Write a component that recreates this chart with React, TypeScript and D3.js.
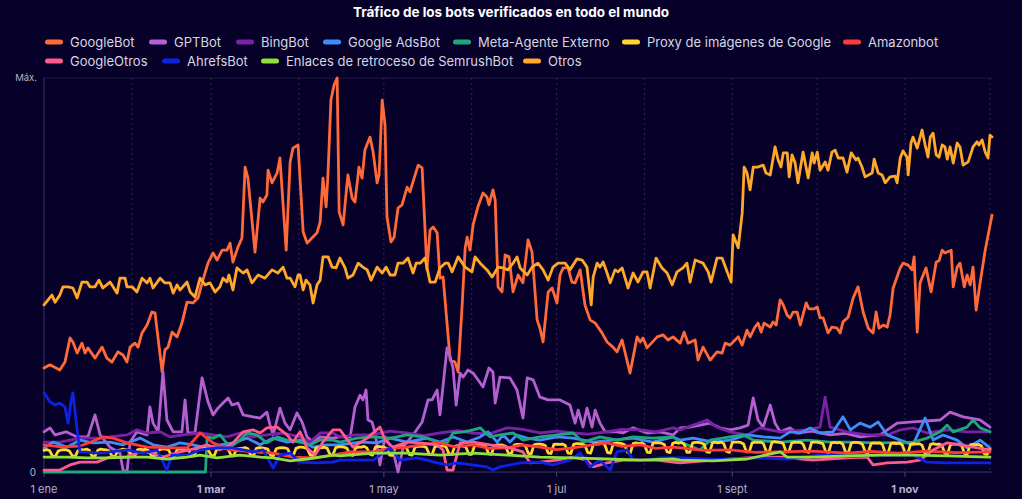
import React from "react";
import * as d3 from "d3";

// ---------- data (day offset from 1 Jan 2025, share of maximum in %) ----------
const chartTitle = "Tráfico de los bots verificados en todo el mundo";

const seriesNames = [
  "GoogleBot", "GPTBot", "BingBot", "Google AdsBot", "Meta-Agente Externo",
  "Proxy de imágenes de Google", "Amazonbot", "GoogleOtros", "AhrefsBot",
  "Enlaces de retroceso de SemrushBot", "Otros",
];

const googleBot: [number, number][] = [
  [0,26.4],[2.1,27.2],[5.6,25.9],[7.4,27.9],[9.2,34],[10.2,33],[11.7,30.2],[13.4,32.7],[14.5,30.2],[15.5,31.5],
  [18,28.9],[20.5,31.7],[22.2,28.9],[24,27.9],[26.1,30.5],[27.9,29.7],[29.3,27.9],[30.4,31.7],[32.1,32.7],[33.2,31.7],
  [34.6,35.3],[36.4,37.3],[38.1,40.6],[39.2,40.4],[41.7,25.4],[42.7,31],[43.8,31.7],[45.2,35.5],[47,34.3],[48.7,37.8],
  [50.5,43.1],[52.6,42.9],[54.4,44.2],[56.1,48.7],[57.9,53],[59.7,55.6],[61.1,53.8],[62.9,56.3],[64.6,56.3],[65.7,58.1],
  [66.7,53.3],[68.5,57.1],[69.9,59.4],[71,77.4],[72,74.6],[74.5,55.8],[76.3,69.5],[77.3,68.5],[78.7,70.3],[79.1,76.6],
  [80.5,73.4],[82.3,75.9],[83.3,79.7],[85.5,56.3],[86.9,78.7],[87.9,82.2],[89.7,83],[91.5,60.9],[92.9,58.1],[94.6,59.4],
  [96.4,60.7],[97.5,63.5],[98.5,74.6],[99.6,67.3],[100.3,76.1],[101.3,94.4],[102.4,98.2],[103.5,100],[104.2,66],[105.6,62.7],
  [107.3,75.4],[108.8,69.5],[109.8,68.5],[111.2,77.4],[112.3,74.6],[113.3,81.7],[115.1,85],[116.2,81.2],[117.6,73.4],[118.3,75.4],
  [119.4,94.4],[120.4,88.1],[121.1,64.7],[122.5,58.4],[123.6,59.6],[125,67],[126.4,67.8],[128.2,72.3],[129.2,71.1],[132.1,77.9],
  [133.5,77.2],[135.2,51.3],[136.3,61.4],[137.4,62.2],[138.8,60.7],[139.8,49.2],[140.9,49.5],[143.4,28.4],[145.1,27.9],[146.2,25.4],
  [147.6,41.9],[148.7,56.9],[149.4,59.6],[150.4,56.3],[151.5,62.7],[153.2,67.3],[155,70.8],[156.4,69.8],[157.1,67.8],[158.5,71.6],
  [159.3,69],[160.3,47],[161.7,45.7],[162.8,55.1],[164.2,54.6],[165.6,45.7],[167.4,50],[169.1,48],[170.9,58.9],[172.3,55.8],
  [174.1,38.6],[175.1,36.5],[176.2,33],[178,45.7],[179.4,46.7],[181.1,42.9],[182.2,50],[183.3,51.8],[185,51.8],[186.4,48.2],
  [187.5,48],[189.3,51.3],[191,42.4],[192.8,38.6],[194.6,37.8],[197,35.3],[198.8,33],[200.9,31.7],[202.3,30.5],[204.1,33.5],
  [205.2,30.2],[206.9,25.1],[209.4,34.3],[210.5,33],[211.5,34],[212.9,31.5],[216.5,34.3],[218.6,34.8],[220.3,33.5],[222.1,34.3],
  [224.6,32.7],[226,35.5],[227.4,32.7],[229.9,33.5],[230.9,28.4],[232.7,31.7],[235.2,28.4],[237.6,30.5],[239.4,30.2],[240.5,32.7],
  [242.2,32.2],[245.1,34.3],[246.5,32.2],[248.2,36],[249.3,34.3],[251,36.8],[252.1,37.8],[253.2,35.5],[254.2,37.8],[256.4,36.8],
  [257.4,38.1],[258.5,37.3],[259.9,43.7],[261,42.4],[262.4,39.8],[263.4,39.1],[264.5,40.6],[265.9,40.6],[267,37.3],[269.1,42.9],
  [270.1,41.4],[271.9,41.4],[273,41.9],[274,39.1],[275.1,39.1],[276.8,35.3],[278.2,36.8],[280,36.5],[281.1,35.3],[282.1,38.1],
  [283.9,39.3],[285.7,44.2],[287.4,47],[289.2,40.6],[291,36.5],[292.7,35.3],[293.8,40.6],[294.8,36.5],[296.3,37.3],[297.7,36.8],
  [298.7,39.8],[299.8,46.7],[302.3,51.8],[303.3,53],[305.1,52.5],[306.5,51.3],[307.2,54.6],[308.3,35.5],[309.3,48],[311.4,51.8],
  [313.2,45.7],[315,53.3],[316,53.6],[317.1,56.3],[318.1,55.6],[320.3,56.3],[321,47],[322.4,52],[323.4,53],[324.9,47],
  [325.9,50],[327,47.5],[328,52],[329.1,41.1],[330.5,48],[332.3,56.3],[334.7,65.2],
];

const otros: [number, number][] = [
  [0,42.4],[2.8,44.9],[3.9,43.1],[5.6,44.9],[6.7,47],[8.5,47],[10.2,46.7],[11.7,44.2],[13.4,48.2],[15.2,48.2],
  [16.2,47],[18,47],[19.4,48.7],[20.8,46.7],[23.3,48.2],[25.8,45.4],[26.8,49.2],[28.6,49.2],[29.3,47],[31.1,47],
  [32.8,45.7],[34.6,49.2],[36.4,48],[37.4,49.2],[38.5,46.7],[41,49.2],[42.7,48],[44.5,48],[45.6,45.4],[47,47.5],
  [48,46.2],[50.5,48.2],[51.6,45.7],[53.3,44.4],[55.1,49.2],[56.9,47.5],[58.6,48],[60.4,45.7],[62.1,47],[63.2,49.2],
  [64.6,48.2],[65.3,50],[66.7,46.2],[68.1,51.8],[70.3,50.5],[71.7,51.3],[73.4,48],[75.6,50],[78,49.2],[80.5,51.3],
  [82.6,50.5],[84.4,52],[85.8,49.2],[86.9,49.2],[88.6,47],[89.7,50],[90.4,50],[91.5,46.2],[92.5,48.7],[93.9,47.5],
  [95,42.9],[96.4,47.5],[97.5,48.7],[98.5,54.6],[100.3,54.6],[101.7,52],[103.1,51.8],[104.5,54.3],[106.3,51.8],[107.3,49.2],
  [109.1,50],[110.9,53],[112.6,52],[114.1,51.3],[115.5,48.7],[117.6,52],[119.4,50.5],[120.8,52],[122.2,50],[123.9,50],
  [125,53],[126.8,53],[128.5,54.3],[130.3,50.5],[131.4,53],[132.8,53],[134.5,54.3],[136.3,48.2],[138.1,48.2],[139.8,51.8],
  [141.6,53],[142.7,53],[144.1,50.8],[146.2,54.6],[148.7,52],[151.1,50.8],[152.2,54.6],[154,53],[156.4,51.3],[158.2,49.5],
  [160.3,52],[162.1,51.8],[163.8,51.3],[165.6,53],[167,54.6],[168.1,51.8],[170.6,50],[172.3,52],[174.4,53],[176.2,51.3],
  [178,48.7],[179.7,52],[181.5,53],[184,53],[185.7,51.3],[188.2,54.1],[190,53.8],[191.7,52],[193.2,42.4],[193.9,49.5],
  [195.3,53],[196.3,52],[197.4,53.3],[198.8,50.5],[199.9,48],[201.6,51.3],[202.7,50.8],[204.1,51.8],[206.2,46.7],[208,50.5],
  [209.7,48.2],[211.5,50.8],[212.9,50.8],[214,46.7],[216.1,54.3],[218.2,51.8],[220,50.5],[221.8,47.5],[223.5,50.8],[225.6,51.8],
  [227,53],[228.1,48.2],[229.9,53.8],[231.6,53.3],[232.7,53],[234.5,50.8],[235.5,48.2],[237.6,54.3],[239.4,54.3],[241.2,50.8],
  [242.6,48.2],[243.3,60.2],[245.1,56.9],[246.5,65.7],[247.2,77.4],[248.2,75.9],[249.3,71.6],[250.4,77.4],[252.1,77.4],[253.9,77.9],
  [254.9,75.9],[256.4,75.4],[258.1,82.5],[259.2,79.2],[260.2,77.4],[261,81],[262.4,81],[263.1,74.9],[264.1,80.5],[265.2,78.4],
  [266.2,73.4],[268,81.2],[269.8,74.6],[271.2,81],[271.9,78.4],[273,81.2],[274,76.6],[275.8,78.7],[276.8,76.6],[278.2,81.2],
  [279.3,81.7],[280.4,79.7],[282.1,79.7],[283.5,76.1],[285,81],[286.7,79.2],[287.4,79.7],[288.8,77.4],[289.9,74.9],[292.4,75.9],
  [293.1,79.4],[294.5,75.9],[295.9,75.4],[297,73.4],[298.7,74.9],[300.5,75.1],[301.2,73.4],[302.3,79.7],[303.3,81.5],[304.7,79.9],
  [305.1,75.4],[306.1,83.5],[306.8,85],[308.3,82.2],[310,86.8],[311.1,83],[312.1,79.9],[312.9,85],[313.9,86],[315,80.5],
  [316,79.9],[317.1,83],[318.1,82.5],[318.9,79.4],[319.9,82.5],[321,78.4],[322.4,83.5],[323.4,82.5],[324.5,77.9],[326.3,78.7],
  [328,82.5],[329.4,83.8],[330.1,83],[331.2,84.3],[332.3,81.2],[333.3,79.7],[334,85.5],[334.7,85],
];

const gptBot: [number, number][] = [
  [0,10.2],[2.1,11.2],[3.9,9.4],[7.8,10.2],[11.7,8.9],[15.5,8.9],[18,14.5],[19.8,9.4],[23.3,6.3],[26.8,4.8],
  [27.9,0.5],[29.3,0],[30.4,7.6],[32.8,10.2],[36.4,9.4],[37.4,16.5],[38.5,12.4],[40.3,10.2],[42,25.4],[43.4,13.2],
  [45.6,10.2],[48.7,10.2],[49.8,18.3],[50.8,9.9],[53.3,9.9],[55.8,23.9],[57.9,17.8],[59.7,14.5],[61.4,16.2],[63.2,17.5],
  [65,18.8],[66.4,17],[68.5,17.5],[70.3,14.5],[73.8,14],[76.3,13.7],[78.7,15.2],[79.8,11.9],[80.9,9.4],[83.3,16.2],
  [85.1,12.4],[86.9,10.7],[89.3,15],[91.1,12.7],[92.9,8.9],[95,7.6],[97.5,8.9],[102,8.6],[104.5,8.9],[108.1,8.9],
  [109.8,16.5],[111.6,19.5],[112.6,18.3],[113.7,20.8],[114.4,13.2],[115.8,12.7],[116.9,9.9],[118.6,1.8],[120.4,8.9],[123.2,5.6],
  [125,0],[126.8,6.3],[130.3,9.4],[133.5,12.7],[135.6,18.3],[137,18.3],[138.8,20.8],[139.8,14.5],[142.3,31.5],[143.4,29.2],
  [144.4,26.4],[145.5,17],[146.9,25.1],[148,24.1],[149.7,25.9],[151.5,25.1],[153.2,23.4],[155,21.6],[157.1,26.4],[158.5,25.4],
  [159.3,17.5],[161,24.1],[164.5,23.9],[167,20.8],[169.1,13.7],[170.6,23.9],[172.7,23.4],[175.1,19],[178,18.3],[182.2,18.3],
  [185.7,17],[187.5,12.4],[188.6,15.7],[190.3,11.4],[191.7,16.2],[193.5,11.4],[194.6,15.7],[196.3,12.4],[198.1,10.2],[202.3,10.2],
  [204.4,9.9],[208,11.2],[212.9,9.9],[217.5,10.2],[222.1,9.4],[224.6,11.2],[228.1,11.4],[231.6,11.9],[235.2,12.4],[238.7,11.2],
  [242.2,10.7],[245.8,11.2],[248.6,11.9],[250.4,18.8],[252.1,13.2],[253.9,11.4],[256.4,17],[258.1,12.4],[259.9,10.2],[263.4,11.2],
  [265.9,9.9],[271,10.4],[277.5,9.4],[283,9.8],[288.1,8.9],[295.2,9.4],[301.2,12.4],[306.8,12.7],[316.4,13.2],[319.9,15.2],
  [324.5,14],[330.5,13.2],[334,11.4],
];

const bingBot: [number, number][] = [
  [0,7.6],[5.6,7.6],[12.7,8.6],[19.8,8.6],[23.3,8.9],[29.3,9.4],[32.8,10.7],[36.4,9.9],[41,10.2],[44.5,8.9],
  [49.1,9.4],[55.1,9.9],[59.7,9.4],[64.6,8.9],[69.2,9.9],[73.8,8.9],[78.7,9.4],[84.4,9.9],[90.4,8.9],[93.9,7.6],
  [97.5,9.9],[102,9.9],[104.5,8.9],[110,9.4],[116.2,9.4],[122,10.4],[128.2,9.9],[134,9.2],[139.8,9.9],[146,10.5],
  [151.5,9.9],[157,9.6],[163.5,11.2],[169,10.8],[175.1,9.9],[181,10.4],[186.8,9.9],[192,9.6],[198.8,10.2],[204,10.8],
  [210.5,10.7],[216,10.2],[222.1,11.2],[224.6,10.7],[234.1,13.2],[237.6,11.4],[242.2,10.2],[248.2,9.4],[252.8,11.2],[259.9,10.2],
  [269.4,10.7],[274,11.4],[275.8,19],[277.5,11.4],[283.5,10.2],[290.6,9.4],[297.7,9.4],[302.3,10.7],[306.8,11.2],[311.8,9.9],
  [318.9,10.7],[325.9,10.2],[334,10.2],
];

const adsBot: [number, number][] = [
  [0,6.1],[3.2,7.6],[8.1,6.3],[12.7,8.1],[17.3,7.4],[23.3,7.6],[27.9,6.9],[33.9,8.6],[38.5,6.9],[43.4,6.3],
  [48,7.4],[52.6,6.9],[57.6,6.1],[62.1,6.9],[66.7,7.4],[71.7,8.6],[76.3,6.9],[80.9,8.6],[85.8,7.6],[90.4,8.1],
  [95,6.3],[99.9,6.9],[104.5,6.9],[111.6,7.6],[117.6,7.4],[122.2,8.6],[128.2,7.6],[135.2,8.6],[139.8,7.6],[144.4,8.9],
  [149.4,7.6],[154,8.9],[156.8,10.2],[160,7.6],[162.1,9.4],[164.5,7.6],[167,9.4],[170.6,8.6],[175.1,8.1],[181.1,8.9],
  [186.8,8.6],[193.9,7.6],[200.9,8.1],[208,8.6],[215,7.6],[222.1,8.9],[224.6,8.1],[229.2,8.6],[236.2,7.6],[242.2,8.1],
  [248.2,9.4],[253.9,8.9],[259.9,8.6],[263.4,10.2],[267,9.9],[270.5,11.2],[274,9.9],[278.6,10.2],[282.1,14],[284.7,10.7],
  [288.1,12.4],[291.7,11.4],[294.5,12.7],[297.7,9.4],[302.3,8.1],[306.8,6.9],[311.1,13.7],[313.9,8.1],[317.4,9.4],[322.4,8.1],
  [325.9,6.1],[330.5,8.1],[334,6.1],
];

const metaAgent: [number, number][] = [
  [0,0],[57,0],[57.6,8.9],[59.7,8.6],[62.1,9.4],[65.7,6.3],[69.2,8.1],[71.7,9.9],[75.2,9.4],[78.7,7.4],
  [82.3,8.9],[85.8,8.1],[90.4,7.6],[93.9,6.9],[97.5,8.1],[102,8.1],[104.5,7.6],[110.5,8.6],[116.2,8.9],[122.2,8.6],
  [128.2,9.4],[133.8,8.9],[138.8,7.6],[142.3,7.4],[144.4,9.9],[148,10.2],[151.5,10.7],[154,11.2],[157.5,8.9],[161,9.4],
  [165.6,9.9],[169.1,8.1],[175.1,8.9],[181.1,9.4],[186.8,9.9],[190.3,7.6],[196.3,8.9],[202.3,8.1],[208,8.9],[215,8.6],
  [222.1,8.9],[224.6,7.6],[231.6,5.6],[235.2,8.1],[242.2,8.9],[246.8,9.4],[250.4,8.1],[259.9,7.6],[269.4,8.1],[277.5,7.6],
  [283.5,7.6],[295.2,7.4],[306.8,7.6],[311.8,8.6],[316.4,10.2],[318.9,11.9],[321,10.2],[325.9,11.4],[328,13.2],[330.5,11.2],
  [334,10.2],
];

// Google image proxy, one value per day, rows are weeks starting on Wednesday 1 Jan
const imageProxyDaily: number[] = [
  5.5,5.7,5.4,4.0,3.9,5.3,5.6, 5.7,5.6,5.3,4.1,3.9,5.4,5.7, 5.6,5.8,5.5,4.0,4.0,5.5,5.8, 5.7,5.6,5.4,4.1,3.8,5.4,5.6,
  5.8,5.7,5.5,4.2,4.0,5.6,5.8, 5.6,5.8,5.4,4.0,3.9,5.5,5.7, 5.9,5.8,5.6,4.1,4.0,5.7,5.9, 5.8,6.0,5.7,4.2,4.1,5.8,6.0,
  6.0,5.9,5.6,4.2,4.0,5.7,6.1, 6.1,6.0,5.8,4.3,4.1,5.9,6.0, 6.0,6.2,5.9,4.2,4.2,6.0,6.2, 6.1,6.0,5.8,4.3,4.1,5.9,6.1,
  6.2,6.1,5.9,4.4,4.2,6.0,6.3, 6.3,6.2,5.8,4.3,4.1,6.1,6.2, 6.1,6.3,6.0,4.4,4.3,6.2,6.4, 6.4,6.3,6.0,4.4,4.2,6.1,6.3,
  6.3,6.5,6.1,4.5,4.3,6.3,6.5, 6.4,6.3,6.0,4.3,4.2,6.2,6.4, 6.5,6.4,6.1,4.4,4.3,6.3,6.5, 6.6,6.5,6.2,4.5,4.4,6.4,6.6,
  6.5,6.7,6.3,4.6,4.4,6.5,6.7, 6.7,6.6,6.3,4.5,4.5,6.6,6.8, 6.8,6.7,6.4,4.6,4.5,6.7,6.9, 6.9,6.8,6.5,4.7,4.6,6.8,7.0,
  7.0,6.9,6.6,4.7,4.6,6.9,7.1, 7.1,7.0,6.7,4.8,4.7,7.0,7.1, 7.0,7.1,6.8,4.8,4.7,7.0,7.2, 7.2,7.1,6.8,4.9,4.8,7.1,7.2,
  7.1,7.3,6.9,4.9,4.8,7.2,7.3, 7.3,7.2,6.9,5.0,4.8,7.2,7.4, 7.2,7.4,7.0,5.0,4.9,7.3,7.4, 7.4,7.3,7.0,5.1,4.9,7.3,7.5,
  7.3,7.5,7.1,5.0,5.0,7.4,7.5, 7.5,7.4,7.1,5.1,5.0,7.4,7.6, 7.4,7.6,7.2,5.2,5.0,7.5,7.6, 7.6,7.5,7.1,5.1,5.1,7.4,7.6,
  7.5,7.6,7.2,5.2,5.0,7.5,7.7, 7.6,7.5,7.2,5.1,5.1,7.4,7.6, 7.5,7.6,7.1,5.2,5.0,7.5,7.6, 7.6,7.4,7.2,5.1,5.0,7.4,7.5,
  7.4,7.5,7.1,5.0,4.9,7.3,7.5, 7.5,7.4,7.0,5.0,4.9,7.2,7.4, 7.3,7.4,7.0,4.9,4.8,7.2,7.3, 7.2,7.3,6.9,4.9,4.8,7.1,7.2,
  7.1,7.2,6.8,4.8,4.7,7.0,7.2, 7.0,7.1,6.8,4.8,4.6,6.9,7.1, 7.1,7.0,6.7,4.7,4.6,6.9,7.0, 6.9,7.0,6.6,4.6,4.5,5.8,
];

const amazonBot: [number, number][] = [
  [0,6.9],[6,6.4],[12.7,6.6],[16.5,7.6],[20.8,8.9],[24.4,8.6],[29.3,7.4],[36.4,6.3],[43.4,6.1],[50.5,6.1],
  [55.1,9.9],[59.7,7.4],[65.7,5.6],[73.8,5.1],[80.9,4.8],[87.9,3.8],[95,3.6],[102,4.3],[108.1,5.1],[116.2,5.1],
  [122,6.0],[128.2,6.3],[134,7.0],[139.8,7.4],[145,6.4],[151.5,6.9],[157,6.0],[163.5,6.1],[169,6.9],[175.1,6.3],
  [181,5.7],[186.8,6.1],[193,6.8],[198.8,7.4],[204,6.5],[210.5,6.9],[216,6.0],[222.1,6.3],[224.6,6.1],[233,5.5],
  [242.2,5.6],[251,5.0],[259.9,5.1],[271,5.3],[283.5,4.8],[292,5.2],[301.2,4.8],[312,5.3],[322,4.9],[334,5.1],
];

const googleOtros: [number, number][] = [
  [0,0.5],[5.6,0.5],[9.2,1.8],[12.7,2.5],[18.7,2.5],[23.3,3.8],[29.3,3.8],[33.9,5.1],[38.5,4.8],[42,3.8],
  [48,5.1],[51.6,5.6],[57.6,6.9],[62.1,5.6],[66.7,7.4],[70.3,10.2],[73.8,10.7],[76.3,9.9],[78.7,11.2],[82.3,11.4],
  [85.8,9.4],[87.9,7.6],[90.4,10.2],[92.9,6.1],[95.7,4.3],[98.5,7.6],[102,10.7],[104.5,10.7],[109.1,6.3],[114.1,8.6],
  [118.6,11.4],[120.4,8.1],[123.2,6.3],[128.2,7.6],[132.8,7.4],[138.8,6.9],[140.9,5.6],[142.3,0.5],[144.4,0.5],[146.9,7.4],
  [151.5,7.6],[157.5,6.9],[163.5,6.3],[169.1,5.1],[171.6,2.3],[175.1,2.5],[181.1,3],[186.8,3.8],[191.7,3],[193.9,1.3],
  [198.8,2.3],[204.4,3],[210.5,3],[216.5,3],[222.1,2.5],[224.6,2.3],[236.2,3],[248.2,3.6],[259.9,3.8],[271.5,3],
  [283.5,3.6],[290.6,3.8],[292.7,1.8],[297.7,2.3],[304.7,2.5],[309.3,3],[313.9,5.6],[318.9,7.4],[323.4,6.9],[328,6.3],
  [334,5.6],
];

const ahrefsBot: [number, number][] = [
  [0,20.1],[2.1,17.8],[3.9,17],[5.6,17.5],[7.4,16.5],[8.5,12.4],[9.5,17.8],[10.2,20.1],[11.7,10.7],[12.7,5.1],
  [19.8,4.8],[29.3,5.6],[35,4.8],[39.9,5.6],[43.4,0.5],[45.2,4.3],[50.5,4.3],[55.1,5.6],[61.1,6.1],[66.7,6.1],
  [73.8,5.1],[77.3,5.6],[80.9,1],[83.3,4.3],[86.9,4.8],[90.4,2.5],[96.4,2.3],[102,2.5],[104.5,3],[116.2,3],
  [122.2,6.1],[125.7,3],[131.7,3.6],[135.2,3],[138.8,2.3],[142.3,1.8],[145.8,2.3],[156.4,1.3],[158.5,0.5],[161,1.3],
  [168.1,2.3],[175.1,2.5],[179.7,1.8],[185.7,3],[189.3,4.8],[192.8,1.3],[196.3,3],[199.9,0.5],[202.3,5.1],[205.9,5.6],
  [208,3],[212.9,3],[217.5,3.6],[222.1,3.6],[224.6,3.6],[238,3.2],[252.8,3.6],[263,3.3],[274,4.3],[285,4.0],
  [295.2,4.3],[306.8,4.3],[311.8,2.5],[318.9,2.3],[334,2.3],
];

const semrushBot: [number, number][] = [
  [0,3.8],[8.1,3.8],[15.2,3.6],[22.2,3.6],[29.3,3.8],[36.4,3.8],[43.4,3.3],[50.5,3.8],[55.1,4.3],[61.1,3.6],
  [69.2,4.3],[76.3,3.8],[80.9,3.6],[86.9,2.8],[92.9,3.3],[97.5,3.8],[102,4.3],[104.5,4.1],[116.2,4.8],[128.2,4.8],
  [139.8,4.3],[151.5,4.8],[163.5,4.3],[175.1,3.8],[186.8,3.6],[198.8,3.3],[210.5,3],[222.1,3.3],[224.6,3],[236.2,2.8],
  [248.2,3.3],[259.9,5.1],[262.4,3.8],[271.5,3.8],[283.5,4.1],[295.2,4.3],[306.8,4.3],[318.9,4.1],[334,3.8],
];

const xTickMonths = [0, 2, 4, 6, 8, 10];
const xTickLabels = ["1 ene", "1 mar", "1 may", "1 jul", "1 sept", "1 nov"];
const yTickLabels = ["0", "Máx."];

// ---------- styling ----------
const W = 1022, H = 499;
const BG = "#07012a";
const FONT = "Inter, 'Noto Sans', sans-serif";
const colors = [
  "#ff6a3a", "#b560d0", "#7a22a4", "#3e8ef6", "#1ea67c",
  "#ffd62a", "#ff3b36", "#ff5a8e", "#0d22e4", "#92df3c", "#ffa82a",
];
const legendRows = [[0, 1, 2, 3, 4, 5, 6], [7, 8, 9, 10]];
const legendTextX = [[70, 174, 261, 348, 478, 647, 868], [70, 187, 286, 548]];
const legendY = [42, 61];
const boldTicks = new Set(["1 mar", "1 nov"]);

const DAY = 86400000;
const START = Date.UTC(2025, 0, 1);
const toDate = (d: number) => new Date(START + d * DAY);

export default function App() {
  const plot = { left: 44, right: 992, top: 78, bottom: 472 };
  const x = d3.scaleUtc().domain([toDate(0), toDate(334.7)]).range([plot.left, plot.right]);
  const y = d3.scaleLinear().domain([0, 100]).range([plot.bottom, plot.top]);

  const proxy: [number, number][] = imageProxyDaily.map((v, i) => [i, v]);
  const seriesData: [number, number][][] = [
    googleBot, gptBot, bingBot, adsBot, metaAgent, proxy, amazonBot, googleOtros, ahrefsBot, semrushBot, otros,
  ];

  const line = d3
    .line<[number, number]>()
    .x((p) => x(toDate(p[0])))
    .y((p) => y(p[1]))
    .curve(d3.curveLinear);

  const months = d3.utcMonth.range(toDate(0), toDate(335));
  const gridMonths = months.slice(1);

  return (
    <div style={{ position: "fixed", left: 0, top: 0, width: W, height: H, background: BG }}>
      <svg width={W} height={H} style={{ display: "block", fontFamily: FONT }}>
        <rect width={W} height={H} fill={BG} />
        <text x={511} y={17} textAnchor="middle" fill="#ffffff" fontSize={13.5} fontWeight={700}>
          {chartTitle}
        </text>

        {legendRows.map((row, r) =>
          row.map((si, k) => {
            const tx = legendTextX[r][k];
            return (
              <g key={`lg-${si}`}>
                <rect x={tx - 25} y={legendY[r] - 2.5} width={18} height={5} rx={2.5} fill={colors[si]} />
                <text x={tx} y={legendY[r]} dominantBaseline="central" fill="#d6d6e2" fontSize={13}>
                  {seriesNames[si]}
                </text>
              </g>
            );
          })
        )}

        {/* frame */}
        <line x1={plot.left} x2={plot.right} y1={plot.top} y2={plot.top} stroke="#1f1a45" strokeWidth={1} />
        {gridMonths.map((m, i) => (
          <line key={`g${i}`} x1={x(m)} x2={x(m)} y1={plot.top} y2={plot.bottom}
            stroke="#2c2757" strokeWidth={1} strokeDasharray="2,3" />
        ))}
        <line x1={plot.left} x2={plot.left} y1={plot.top} y2={plot.bottom} stroke="#3a3563" strokeWidth={1} />
        <line x1={plot.left} x2={plot.right} y1={plot.bottom} y2={plot.bottom} stroke="#3a3563" strokeWidth={1} />

        {xTickMonths.map((mi, i) => {
          const px = x(months[mi]);
          return (
            <g key={`xt${i}`}>
              <line x1={px} x2={px} y1={plot.bottom} y2={plot.bottom + 5} stroke="#4a4575" strokeWidth={1} />
              <text x={px} y={493} textAnchor="middle" fill="#b4b2c6" fontSize={11}
                fontWeight={boldTicks.has(xTickLabels[i]) ? 700 : 400}>
                {xTickLabels[i]}
              </text>
            </g>
          );
        })}
        <text x={36} y={y(0)} textAnchor="end" dominantBaseline="central" fill="#b4b2c6" fontSize={10}>
          {yTickLabels[0]}
        </text>
        <text x={37} y={y(100) - 1} textAnchor="end" dominantBaseline="central" fill="#b4b2c6" fontSize={9.5}>
          {yTickLabels[1]}
        </text>

        {seriesData.map((data, si) => (
          <path key={`s${si}`} d={line(data) ?? ""} fill="none" stroke={colors[si]}
            strokeWidth={2.8} strokeLinejoin="round" strokeLinecap="round" />
        ))}
      </svg>
    </div>
  );
}
